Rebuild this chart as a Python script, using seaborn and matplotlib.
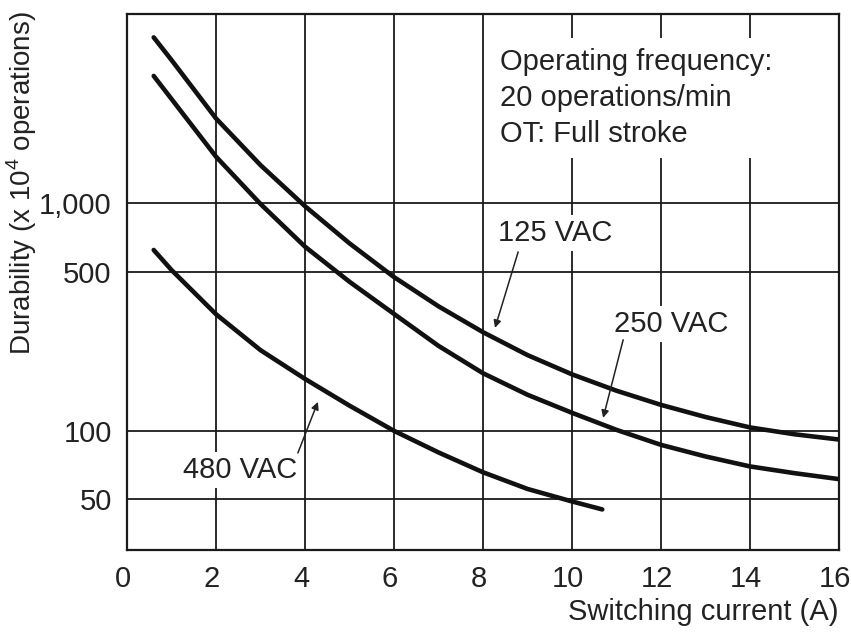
import matplotlib
matplotlib.use("Agg")
import matplotlib.pyplot as plt
import matplotlib.transforms as mtransforms
import seaborn as sns
import pandas as pd

# ---- data ----
x_125 = [0.6, 1, 2, 3, 4, 5, 6, 7, 8, 9, 10, 11, 12, 13, 14, 15, 16]
y_125 = [5330, 4240, 2350, 1466, 968, 665, 473, 352, 271, 215, 177, 150, 130, 115, 103.5, 96.6, 91.6]

x_250 = [0.6, 1, 2, 3, 4, 5, 6, 7, 8, 9, 10, 11, 12, 13, 14, 15, 16]
y_250 = [3610, 2860, 1597, 990, 643, 451, 326, 236, 179, 144, 120, 101, 86.8, 77.2, 69.8, 65.2, 61.4]

x_480 = [0.6, 1, 2, 3, 4, 5, 6, 7, 8, 9, 10, 10.68]
y_480 = [622, 508, 325, 226, 169, 129, 100, 80.4, 65.8, 55.6, 49, 45.2]

x_ticks = [0, 2, 4, 6, 8, 10, 12, 14, 16]
y_ticks = [50, 100, 500, 1000]
y_ticklabels = ["50", "100", "500", "1,000"]

series_labels = ["125 VAC", "250 VAC", "480 VAC"]

df = pd.concat([
    pd.DataFrame({"current": x_125, "durability": y_125, "voltage": "125 VAC"}),
    pd.DataFrame({"current": x_250, "durability": y_250, "voltage": "250 VAC"}),
    pd.DataFrame({"current": x_480, "durability": y_480, "voltage": "480 VAC"}),
])

sns.set_style("white")
plt.rcParams["font.family"] = ["Liberation Sans", "DejaVu Sans"]
plt.rcParams["mathtext.fontset"] = "custom"
plt.rcParams["mathtext.rm"] = "Liberation Sans"

FS = 21
TXT = "#222222"
fig = plt.figure(figsize=(8.51, 6.33), dpi=100)
ax = fig.add_axes([127 / 851, 1 - 550 / 633, (839 - 127) / 851, (550 - 14) / 633])

sns.lineplot(data=df, x="current", y="durability", units="voltage", estimator=None,
             color="#111111", linewidth=3.3, sort=False, ax=ax, legend=False)

ax.set_yscale("log")
ax.set_xlim(0, 16)
ax.set_ylim(30, 6750)
ax.set_xticks(x_ticks)
ax.set_xticklabels([str(t) for t in x_ticks])
ax.set_yticks(y_ticks)
ax.set_yticklabels(y_ticklabels)
ax.yaxis.set_minor_locator(matplotlib.ticker.NullLocator())
ax.tick_params(axis="both", length=0, labelsize=FS, colors=TXT)
ax.tick_params(axis="y", pad=11)
ax.tick_params(axis="x", pad=11)
shift = mtransforms.ScaledTranslation(-4 / 100, 0, fig.dpi_scale_trans)
for lab in ax.get_xticklabels():
    lab.set_transform(lab.get_transform() + shift)
ax.set_axisbelow(True)
ax.grid(True, which="major", color="#1a1a1a", linewidth=1.3)
for s in ax.spines.values():
    s.set_visible(True)
    s.set_color("#1a1a1a")
    s.set_linewidth(1.6)
ax.set_xlabel("")
ax.set_ylabel("")

# condition text box
ax.text(8.38, 4800, "Operating frequency:\n20 operations/min\nOT: Full stroke",
        ha="left", va="top", fontsize=FS, color=TXT, linespacing=1.38,
        bbox=dict(facecolor="white", edgecolor="none", pad=7), zorder=3)

# series labels with arrows
lab_bbox = dict(facecolor="white", edgecolor="none", pad=3)
ax.text(9.62, 740, series_labels[0], ha="center", va="center", fontsize=FS,
        color=TXT, bbox=lab_bbox, zorder=3)
ax.text(12.22, 295, series_labels[1], ha="center", va="center", fontsize=FS,
        color=TXT, bbox=lab_bbox, zorder=3)
ax.text(2.54, 67.5, series_labels[2], ha="center", va="center", fontsize=FS,
        color=TXT, bbox=lab_bbox, zorder=3)

arrow = dict(arrowstyle="-|>", color=TXT, lw=1.1, mutation_scale=11,
             shrinkA=0, shrinkB=0)
ax.annotate("", xy=(8.27, 283), xytext=(8.79, 610), arrowprops=arrow)
ax.annotate("", xy=(10.70, 114), xytext=(11.15, 251), arrowprops=arrow)
ax.annotate("", xy=(4.29, 134), xytext=(3.84, 80), arrowprops=arrow)

fig.text(22 / 851, 1 - 183 / 633, r"Durability (x 10$^{\mathregular{4}}$ operations)",
         rotation=90, ha="center", va="center", fontsize=20, color=TXT)
fig.text(839 / 851, 1 - 612 / 633, "Switching current (A)", ha="right", va="center",
         fontsize=FS, color=TXT)

fig.savefig("out.png", dpi=100)
